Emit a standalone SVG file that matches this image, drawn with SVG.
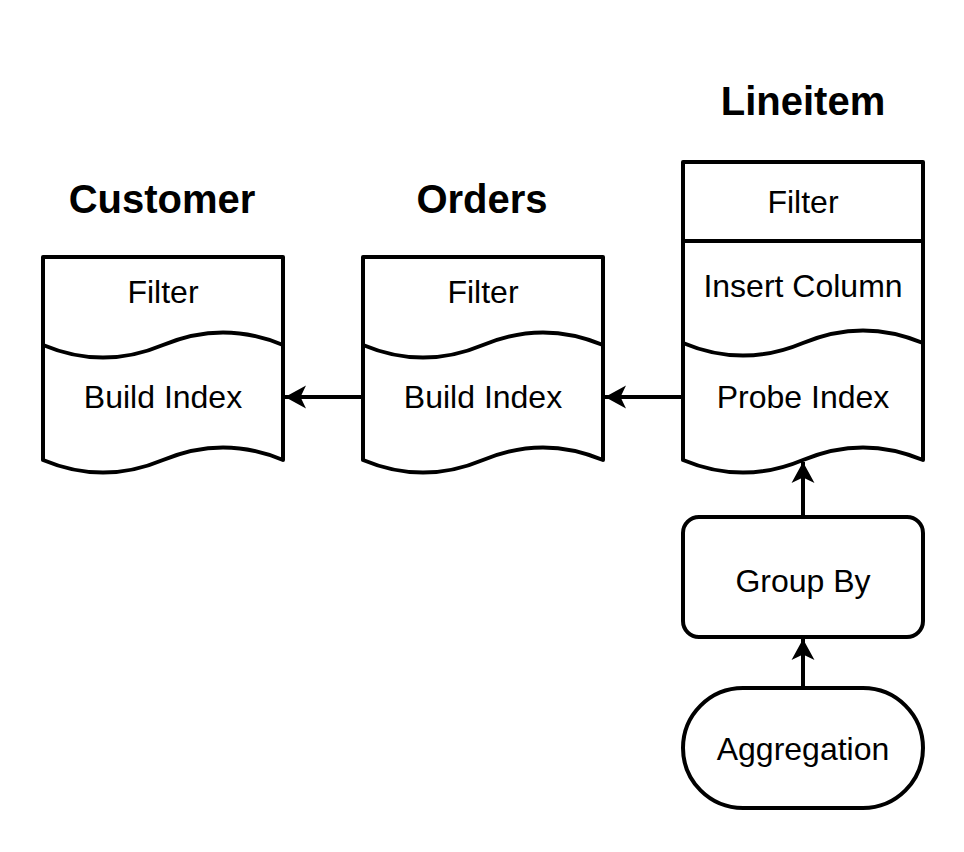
<svg xmlns="http://www.w3.org/2000/svg" width="964" height="852" viewBox="0 0 964 852">
<defs>
<style>
.s{fill:#fff;stroke:#000;stroke-width:4;stroke-linejoin:round}
.w{fill:none;stroke:#000;stroke-width:4}
.t{font-family:"Liberation Sans",Arial,sans-serif;font-size:32px;fill:#000;text-anchor:middle}
.h{font-family:"Liberation Sans",Arial,sans-serif;font-size:40px;font-weight:bold;fill:#000;text-anchor:middle}
.c{fill:none;stroke:#000;stroke-width:4}
</style>
<marker id="arr" viewBox="-22 -12 24 24" refX="0" refY="0" markerWidth="24" markerHeight="24" markerUnits="userSpaceOnUse" orient="auto">
<path d="M0,0 L-21,-11.5 L-15.5,0 L-21,11.5 Z" fill="#000"/>
</marker>
</defs>
<rect width="964" height="852" fill="#fff"/>

<g id="connectors">
<path class="c" d="M363,397 H285" marker-end="url(#arr)"/>
<path class="c" d="M683,397 H605" marker-end="url(#arr)"/>
<path class="c" d="M803,517 V462" marker-end="url(#arr)"/>
<path class="c" d="M803,688 V639" marker-end="url(#arr)"/>
</g>

<g id="customer">
<text class="h" x="162" y="213">Customer</text>
<path class="s" d="M43,257 H283 V460 Q223,434.8 163,460 Q103,485.2 43,460 Z"/>
<path class="w" d="M43,345 Q103,370.2 163,345 Q223,319.8 283,345"/>
<text class="t" x="163" y="303">Filter</text>
<text class="t" x="163" y="408">Build Index</text>
</g>

<g id="orders">
<text class="h" x="482" y="213">Orders</text>
<path class="s" d="M363,257 H603 V460 Q543,434.8 483,460 Q423,485.2 363,460 Z"/>
<path class="w" d="M363,345 Q423,370.2 483,345 Q543,319.8 603,345"/>
<text class="t" x="483" y="303">Filter</text>
<text class="t" x="483" y="408">Build Index</text>
</g>

<g id="lineitem">
<text class="h" x="803" y="115">Lineitem</text>
<path class="s" d="M683,162 H923 V460 Q863,434.8 803,460 Q743,485.2 683,460 Z"/>
<path class="w" d="M683,241 H923"/>
<path class="w" d="M683,343 Q743,368.2 803,343 Q863,317.8 923,343"/>
<text class="t" x="803" y="213">Filter</text>
<text class="t" x="803" y="297">Insert Column</text>
<text class="t" x="803" y="408">Probe Index</text>
</g>

<g id="groupby">
<rect class="s" x="683" y="517" width="240" height="120" rx="16" ry="16"/>
<text class="t" x="803" y="592">Group By</text>
</g>

<g id="aggregation">
<rect class="s" x="683" y="688" width="240" height="120" rx="60" ry="60"/>
<text class="t" x="803" y="760">Aggregation</text>
</g>
</svg>
